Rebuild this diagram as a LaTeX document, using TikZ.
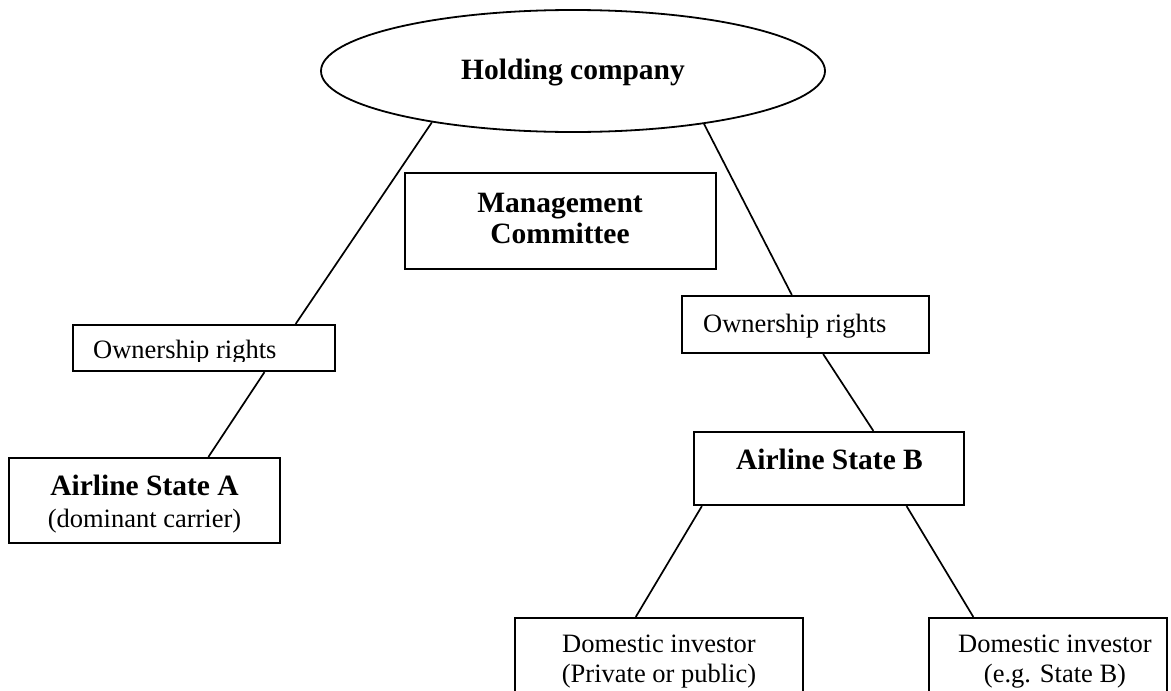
\documentclass[tikz,border=0pt]{standalone}
\usepackage{fontspec}
\setmainfont{Liberation Serif}
\usetikzlibrary{shapes.geometric,calc}
\tikzset{
  boxnode/.style={draw=black, line width=2.2pt, fill=white, rectangle, inner sep=0pt},
  ovalnode/.style={draw=black, line width=1.8pt, fill=white, ellipse, inner sep=0pt},
  conn/.style={draw=black, line width=1.7pt},
  boldtxt/.style={font=\fontsize{29.5}{32}\selectfont\bfseries, inner sep=0pt, anchor=base},
  regtxt/.style={font=\fontsize{26.5}{30}\selectfont, inner sep=0pt, anchor=base}
}
\begin{document}
\begin{tikzpicture}[x=1pt,y=-1pt]
\clip (0,0) rectangle (1171,691);
\fill[white] (0,0) rectangle (1171,691);
% shapes
\node[ovalnode, minimum width=504pt, minimum height=122pt] (hold) at (573,71) {};
\node[boxnode, minimum width=311pt, minimum height=96pt] (mc) at (560.5,221) {};
\node[boxnode, minimum width=262pt, minimum height=46pt] (lor) at (204,348) {};
\node[boxnode, minimum width=247pt, minimum height=57pt] (ror) at (805.5,324.5) {};
\node[boxnode, minimum width=271pt, minimum height=85pt] (aa) at (144.5,500.5) {};
\node[boxnode, minimum width=270pt, minimum height=73pt] (ab) at (829,468.5) {};
\node[boxnode, minimum width=288pt, minimum height=102pt] (dl) at (659,669) {};
\node[boxnode, minimum width=238pt, minimum height=102pt] (dr) at (1048,669) {};
% texts
\node[boldtxt] (holdtxt) at (573,79) {Holding company};
\node[boldtxt] (mctxt1) at (560,212) {Management};
\node[boldtxt] (mctxt2) at (560,243) {Committee};
\begin{scope}
\clip (lor.north west) rectangle ($(lor.south east)+(0,-11)$);
\node[regtxt, anchor=base west] (lortxt) at (93,358) {Ownership rights};
\end{scope}
\node[regtxt, anchor=base west] (rortxt) at (703,332) {Ownership rights};
\node[boldtxt] (aatxt1) at (144.5,495) {Airline State A};
\node[regtxt] (aatxt2) at (144.5,527) {(dominant carrier)};
\node[boldtxt] (abtxt) at (829.5,469) {Airline State B};
\node[regtxt] (dltxt1) at (659,652) {Domestic investor};
\node[regtxt] (dltxt2) at (659,682) {(Private or public)};
\node[regtxt] (drtxt1) at (1055,652) {Domestic investor};
\node[regtxt] (drtxt2) at (1055,682) {(e.g. State B)};
% connectors
\draw[conn] (hold.200) -- ($(lor.north west)!0.847!(lor.north east)$);
\draw[conn] ($(lor.south west)!0.729!(lor.south east)$) -- ($(aa.north west)!0.734!(aa.north east)$);
\draw[conn] (hold.-22) -- ($(ror.north west)!0.445!(ror.north east)$);
\draw[conn] ($(ror.south west)!0.571!(ror.south east)$) -- ($(ab.north west)!0.663!(ab.north east)$);
\draw[conn] ($(ab.south west)!0.033!(ab.south east)$) -- ($(dl.north west)!0.42!(dl.north east)$);
\draw[conn] ($(ab.south west)!0.785!(ab.south east)$) -- ($(dr.north west)!0.189!(dr.north east)$);
\end{tikzpicture}
\end{document}
